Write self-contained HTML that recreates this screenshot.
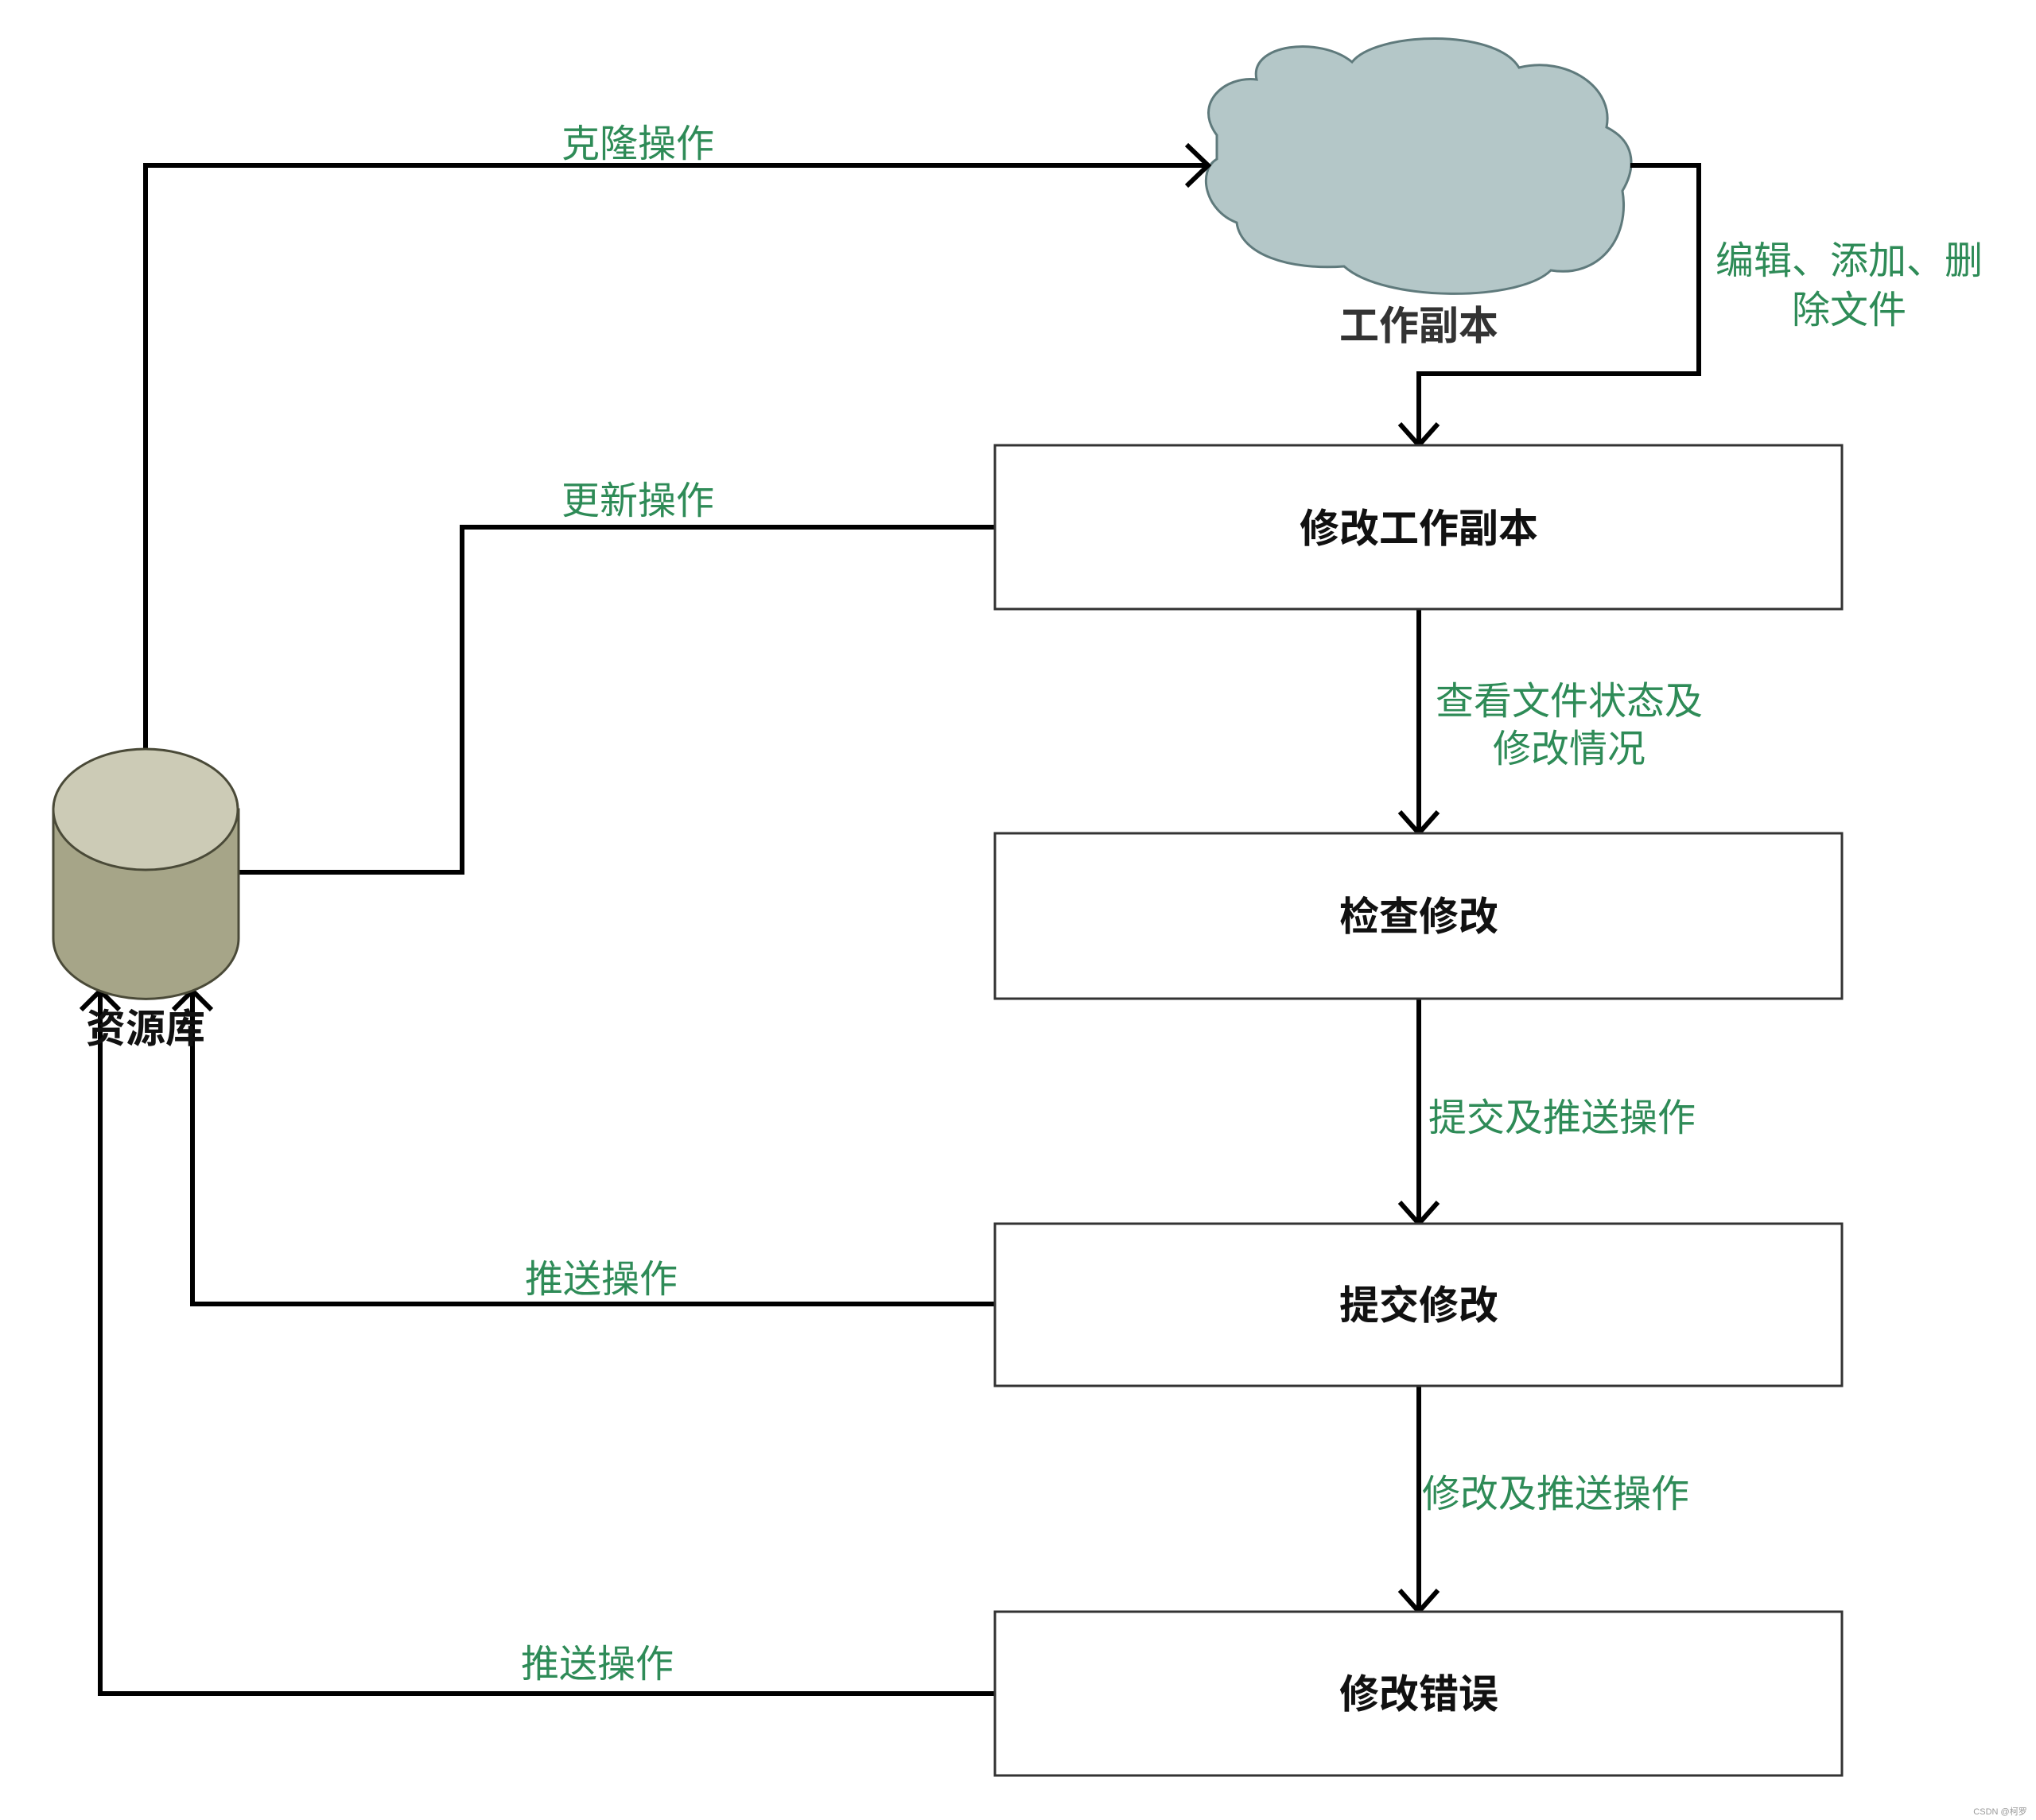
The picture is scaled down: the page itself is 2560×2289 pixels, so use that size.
<!DOCTYPE html>
<html><head><meta charset="utf-8"><style>
html,body{margin:0;padding:0;background:#fff;}
svg{display:block;}
text{font-family:"Liberation Sans","Noto Sans CJK SC",sans-serif;}
.g{fill:#2e8b57;font-size:48px;}
.b{fill:#111;font-size:50px;font-weight:bold;}
</style></head><body>
<svg width="2560" height="2289" viewBox="0 0 2560 2289" xmlns="http://www.w3.org/2000/svg">
<!-- cloud -->
<path d="M1530,170 C1500,130 1540,95 1580,100 C1570,55 1660,45 1700,78 C1730,40 1880,35 1910,85 C1970,70 2030,110 2020,160 C2060,180 2055,215 2040,240 C2050,300 2010,350 1950,340 C1910,380 1740,380 1690,335 C1620,340 1560,320 1555,280 C1515,265 1505,215 1530,200 Z" fill="#b4c7c8" stroke="#5f7a7c" stroke-width="3"/>
<!-- lines -->
<g fill="none" stroke="#000" stroke-width="6" stroke-linejoin="miter">
<polyline points="183,941 183,208 1519,208"/>
<polyline points="1492,182 1519,208 1492,234"/>
<polyline points="2050,208 2136,208 2136,470 1784,470 1784,560"/>
<polyline points="1760,533 1784,560 1808,533"/>
<polyline points="1251,663 581,663 581,1097 300,1097"/>
<polyline points="1784,766 1784,1048"/>
<polyline points="1760,1021 1784,1048 1808,1021"/>
<polyline points="1784,1256 1784,1539"/>
<polyline points="1760,1512 1784,1539 1808,1512"/>
<polyline points="1784,1743 1784,2027"/>
<polyline points="1760,2000 1784,2027 1808,2000"/>
<polyline points="1251,1640 242,1640 242,1246"/>
<polyline points="218,1270 242,1246 266,1270"/>
<polyline points="1251,2130 126,2130 126,1246"/>
<polyline points="102,1270 126,1246 150,1270"/>
</g>
<!-- cylinder -->
<path d="M67,1018 L67,1180 A116,76 0 0 0 300,1180 L300,1018 Z" fill="#a6a588" stroke="#4a4a38" stroke-width="3"/>
<ellipse cx="183" cy="1018" rx="116" ry="76" fill="#cccbb6" stroke="#4a4a38" stroke-width="3"/>
<!-- boxes -->
<g fill="#fff" stroke="#333" stroke-width="3">
<rect x="1251" y="560" width="1065" height="206"/>
<rect x="1251" y="1048" width="1065" height="208"/>
<rect x="1251" y="1539" width="1065" height="204"/>
<rect x="1251" y="2027" width="1065" height="206"/>
</g>
<g text-anchor="middle">
<text class="b" x="1784" y="682">修改工作副本</text>
<text class="b" x="1784" y="1170">检查修改</text>
<text class="b" x="1784" y="1659">提交修改</text>
<text class="b" x="1784" y="2148">修改错误</text>
<text class="b" x="1784" y="427" style="fill:#333">工作副本</text>
<text class="b" x="183" y="1311">资源库</text>
<text class="g" x="802" y="197">克隆操作</text>
<text class="g" x="802" y="646">更新操作</text>
<text class="g" x="2325" y="344">编辑、添加、删</text>
<text class="g" x="2325" y="406">除文件</text>
<text class="g" x="1973" y="898">查看文件状态及</text>
<text class="g" x="1973" y="958">修改情况</text>
<text class="g" x="1964" y="1422">提交及推送操作</text>
<text class="g" x="756" y="1625">推送操作</text>
<text class="g" x="1956" y="1895">修改及推送操作</text>
<text class="g" x="751" y="2109">推送操作</text>
<text x="2515" y="2282" style="font-size:11px;fill:#999">CSDN @柯罗</text>
</g>
</svg>
</body></html>
